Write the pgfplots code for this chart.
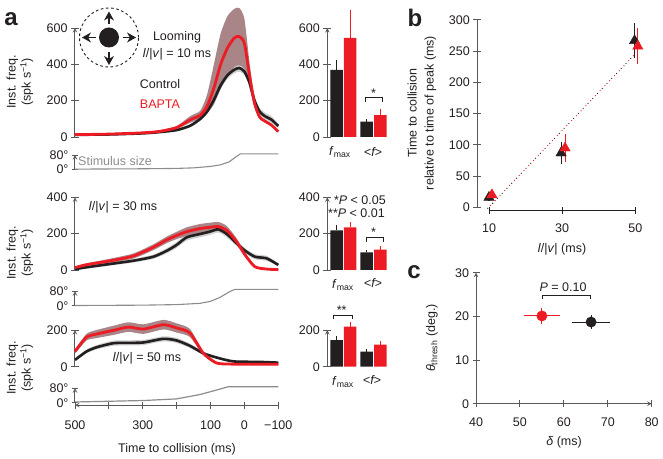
\documentclass[border=0pt]{standalone}
\usepackage{fontspec}
\setmainfont{Liberation Sans}
\usepackage{pgfplots}
\usepackage{pgfplotstable}
\pgfplotsset{compat=1.18}
\usetikzlibrary{arrows.meta}

\definecolor{ink}{HTML}{231F20}
\definecolor{redc}{HTML}{ED1C24}
\definecolor{redband}{HTML}{A98588}
\definecolor{grayband}{HTML}{CDD0CE}
\definecolor{stim}{HTML}{8A8C8E}
\definecolor{spineg}{HTML}{58595B}

% t control lo hi bapta lo hi
\pgfplotstableread{
t c cl cu r rl ru
500 12 9 15 13 10 16
400 14 11 17 16 13 20
300 20 17 24 23 19 28
250 27 23 31 31 26 37
200 38 32 44 52 45 60
160 62 54 70 95 78 115
130 100 90 110 120 100 145
110 140 130 152 170 130 235
90 205 192 220 270 180 400
70 285 268 305 400 265 570
50 340 320 362 490 330 665
30 370 350 392 545 385 705
15 380 360 402 553 395 710
0 360 340 380 515 375 650
-15 300 280 320 340 270 410
-30 200 185 220 185 160 210
-45 140 125 160 110 100 120
-60 115 98 135 88 80 95
-80 95 78 115 65 60 70
-100 60 50 72 30 27 33
}\tabA
\pgfplotstableread{
t c cl cu r rl ru
500 5 0 10 13 7 19
466 15 8 22 29 21 37
397 33 24 42 50 38 62
328 51 41 61 77 63 91
269 73 61 85 125 109 141
230 105 91 119 165 147 183
200 138 122 154 190 170 210
170 180 162 198 211 187 235
131 198 180 216 228 203 253
102 211 193 229 235 210 260
77 224 206 242 239 214 264
52 198 180 216 218 194 242
23 147 131 163 156 138 174
-2 106 92 120 83 73 93
-31 73 59 87 18 13 23
-66 64 50 78 5 2 8
-100 28 20 36 2 0 4
}\tabB
\pgfplotstableread{
t c cl cu r rl ru
500 37 29 45 83 71 95
466 83 73 93 161 143 179
436 106 94 118 178 156 200
387 128 114 142 198 173 223
342 130 116 144 216 190 242
298 132 118 146 205 179 231
239 152 138 166 229 203 255
200 143 129 157 211 186 236
161 114 102 126 184 162 206
121 73 65 81 73 63 83
82 50 44 56 20 15 25
33 29 24 34 14 10 18
-46 26 21 31 13 9 17
-100 22 17 27 13 9 17
}\tabC

% bars: x value err (x in bar widths, matches the uneven spacing)
\pgfplotstableread{
x v e
0 370 52
2.2 85 15
}\barAk
\pgfplotstableread{
x v e
1 545 155
3.2 120 35
}\barAr
\pgfplotstableread{
x v e
0 218 32
2.2 97 15
}\barBk
\pgfplotstableread{
x v e
1 235 27
3.2 112 20
}\barBr
\pgfplotstableread{
x v e
0 145 23
2.2 82 13
}\barCk
\pgfplotstableread{
x v e
1 218 27
3.2 120 18
}\barCr

\newcommand{\curves}[1]{
  \addplot[draw=none,smooth,tension=0.4,stack plots=y,forget plot] table[x=t,y=cl]{#1};
  \addplot[stack plots=y,smooth,tension=0.4,fill=grayband,draw=none,forget plot] table[x=t,y expr=\thisrow{cu}-\thisrow{cl}]{#1} \closedcycle;
  \addplot[draw=none,smooth,tension=0.4,stack plots=y,forget plot] table[x=t,y expr=\thisrow{rl}-\thisrow{cu}]{#1};
  \addplot[stack plots=y,smooth,tension=0.4,fill=redband,draw=none,forget plot] table[x=t,y expr=\thisrow{ru}-\thisrow{rl}]{#1} \closedcycle;
  \addplot[stack plots=false,ink,line width=2.6pt,smooth,tension=0.4] table[x=t,y=c]{#1};
  \addplot[stack plots=false,redc,line width=2.8pt,smooth,tension=0.4] table[x=t,y=r]{#1};
}
\newcommand{\bars}[2]{
  \addplot[ybar,bar width=12.5pt,bar shift=0pt,fill=ink,draw=none,
    error bars/.cd,y dir=plus,y explicit,error mark=none,
    error bar style={ink,line width=1.1pt}] table[x=x,y=v,y error=e]{#1};
  \addplot[ybar,bar width=12.5pt,bar shift=0pt,fill=redc,draw=none,
    error bars/.cd,y dir=plus,y explicit,error mark=none,
    error bar style={redc,line width=1.1pt}] table[x=x,y=v,y error=e]{#2};
}

\pgfplotsset{
  base/.style={scale only axis,clip=false,enlargelimits=false,
    axis line style={-,draw=spineg,line width=1pt},
    tick style={draw=spineg,line width=.9pt},
    tick align=outside,major tick length=8pt,
    ticklabel style={font=\fontsize{12.5}{15}\selectfont,text=ink},
    /pgf/number format/assume math mode=true,
    scaled ticks=false},
  pos/.style 2 args={at={(#1pt,{(458-#2)*1pt})},anchor=south west},
  trace/.style 2 args={base,pos={75}{#1},width=203.3pt,xmin=-100,xmax=500,x dir=reverse,
    axis x line=none,axis y line=left,ytick pos=left,height=#2pt},
  stimax/.style={trace={#1}{14.5},ymin=0,ymax=80,ytick={0,80},yticklabels={0°,80°},
    major tick length=6pt},
  barax/.style 2 args={base,pos={327.3}{#1},width=60.7pt,xmin=-0.67,xmax=3.75,
    axis x line=none,axis y line=left,height=#2pt,ymin=0},
}
\tikzset{lab/.style={font=\fontsize{12.5}{15}\selectfont,text=ink,inner sep=0pt},
  letter/.style={font=\fontsize{24}{26}\selectfont\bfseries,text=ink,inner sep=0pt},
  brk/.style={draw=ink,line width=.8pt}}
\newcommand{\px}[2]{({#1*1pt},{(458-#2)*1pt})}
\newcommand{\lv}{\textit{l}/|\textit{v}|}

\begin{document}
\begin{tikzpicture}
\path[use as bounding box] (0,0) rectangle (663pt,458pt);

% panel a, traces
\begin{axis}[trace={137}{109},ymin=0,ymax=600,ytick={0,200,400,600}]
\curves{\tabA}
\end{axis}
\begin{axis}[stimax={169.5}]
\addplot[stim,line width=1.1pt] coordinates {(500,2) (300,4) (200,6) (150,9) (100,17) (70,26) (45,42) (25,70) (12,86) (0,86) (-100,86)};
\end{axis}
\begin{axis}[trace={270}{72.7},ymin=0,ymax=400,ytick={0,200,400}]
\curves{\tabB}
\end{axis}
\begin{axis}[stimax={305.7}]
\addplot[stim,line width=1.1pt] coordinates {(500,1) (300,3) (200,6) (131,13) (100,24) (72,46) (43,78) (28,90) (-100,90)};
\end{axis}
\begin{axis}[trace={366.7}{36.7},ymin=0,ymax=200,ytick={0,200}]
\curves{\tabC}
\end{axis}
\begin{axis}[stimax={402.7}]
\addplot[stim,line width=1.2pt] coordinates {(500,4) (298,12) (200,21) (131,45) (82,70) (48,88) (-100,88)};
\end{axis}
% shared time axis
\begin{axis}[base,pos={75}{405},width=203.3pt,height=5pt,xmin=-100,xmax=500,x dir=reverse,
  ymin=0,ymax=1,axis y line=none,axis x line=bottom,
  xtick={500,400,300,200,100,0,-100},xticklabels={500,,300,,100,0,−100},major tick length=7pt,
  x tick label style={yshift=-9pt}]
\addplot[draw=none] coordinates {(500,0) (-100,0)};
\end{axis}

% panel a, bars
\begin{axis}[barax={137}{109},ymax=600,ytick={0,200,400,600}]
\bars{\barAk}{\barAr}
\end{axis}
\begin{axis}[barax={270}{72.7},ymax=400,ytick={0,200,400}]
\bars{\barBk}{\barBr}
\end{axis}
\begin{axis}[barax={366.7}{36.7},ymax=200,ytick={0,200}]
\bars{\barCk}{\barCr}
\end{axis}

% panel b
\begin{axis}[base,pos={477.3}{207.3},width=1pt,height=187.3pt,xmin=0,xmax=1,ymin=0,ymax=300,
  axis x line=none,axis y line=left,ytick={0,50,...,300},
  axis line style={-,draw=spineg,line width=1.4pt},
  tick style={draw=spineg,line width=1pt}]
\addplot[draw=none] coordinates {(0,0) (1,300)};
\end{axis}
\begin{axis}[base,pos={489}{210.7},width=146.3pt,height=187.3pt,xmin=10,xmax=50,
  ymin=-5.4,ymax=294.6,axis y line=none,axis x line=bottom,xtick={10,30,50},major tick length=6.5pt,
  axis line style={-,draw=ink,line width=.9pt},tick style={draw=ink,line width=.9pt},
  x tick label style={yshift=-6pt}]
\addplot[ink,line width=.9pt,dash pattern=on .9pt off 6pt] coordinates {(9.6,-2) (49.7,244)};
\addplot[redc,line width=.9pt,dash pattern=on .9pt off 6pt,dash phase=3pt] coordinates {(9.6,-2) (49.7,244)};
\addplot[only marks,mark=triangle*,mark size=6pt,ink,mark options={fill=ink,draw=ink},
  error bars/.cd,y dir=both,y explicit,error mark=none,error bar style={ink,line width=1.1pt}]
  coordinates {(10,16) +- (0,6) (29.7,87) +- (0,18) (49.8,267) +- (0,28)};
\addplot[only marks,mark=triangle*,mark size=6pt,redc,mark options={fill=redc,draw=redc},
  error bars/.cd,y dir=both,y explicit,error mark=none,error bar style={redc,line width=1.1pt}]
  coordinates {(10.8,20) +- (0,6) (30.8,95) +- (0,23) (50.7,258) +- (0,29)};
\end{axis}

% panel c
\begin{axis}[base,pos={476}{403.7},width=175.7pt,height=131pt,xmin=40,xmax=80,ymin=0,ymax=30,
  axis x line=bottom,axis y line=left,xtick={40,50,...,80},ytick={0,10,20,30},
  major tick length=7pt,x tick label style={yshift=-7pt}]
\addplot[only marks,mark=*,mark size=5.2pt,redc,mark options={fill=redc,draw=redc},
  error bars/.cd,x dir=both,x explicit,y dir=both,y explicit,error mark=none,error bar style={redc,line width=1pt}]
  coordinates {(55,20.1) +- (4.1,1.9)};
\addplot[only marks,mark=*,mark size=5.2pt,ink,mark options={fill=ink,draw=ink},
  error bars/.cd,x dir=both,x explicit,y dir=both,y explicit,error mark=none,error bar style={ink,line width=1pt}]
  coordinates {(66.2,18.7) +- (4.3,1.7)};
\end{axis}

% icon
\draw[ink,line width=.9pt,dash pattern=on 2.6pt off 2.6pt] \px{109}{37.5} circle (29.5pt);
\fill[ink] \px{109}{37.5} circle (10pt);
\begin{scope}[ink,line width=1.1pt,-{Stealth[length=9pt,width=10pt]}]
\draw \px{109}{24} -- \px{109}{11.5};
\draw \px{109}{52} -- \px{109}{65};
\draw \px{95.5}{37.5} -- \px{82}{37.5};
\draw \px{122.5}{37.5} -- \px{136}{37.5};
\end{scope}

% text, panel a
\node[letter] at \px{11}{19} {a};
\node[lab] at \px{177}{37.5} {Looming};
\node[lab] at \px{177}{54} {\lv{} = 10 ms};
\node[lab] at \px{160}{84.5} {Control};
\node[lab,text=redc] at \px{160}{104} {BAPTA};
\node[lab,text=stim,anchor=west] at \px{78}{161} {Stimulus size};
\node[lab] at \px{123}{207.5} {\lv{} = 30 ms};
\node[lab] at \px{147}{358.5} {\lv{} = 50 ms};
\node[lab,rotate=90,align=center] at \px{20}{82} {Inst. freq.\\(spk s\textsuperscript{−1})};
\node[lab,rotate=90,align=center] at \px{20}{253} {Inst. freq.\\(spk s\textsuperscript{−1})};
\node[lab,rotate=90,align=center] at \px{20}{368} {Inst. freq.\\(spk s\textsuperscript{−1})};
\node[lab] at \px{177}{449} {Time to collision (ms)};

% bar annotations
\node[lab] at \px{340}{152} {\textit{f}\textsubscript{max}};
\node[lab] at \px{373}{152} {\textit{<f>}};
\node[lab] at \px{343}{285} {\textit{f}\textsubscript{max}};
\node[lab] at \px{373}{283} {\textit{<f>}};
\node[lab] at \px{343}{382} {\textit{f}\textsubscript{max}};
\node[lab] at \px{372}{380} {\textit{<f>}};
\draw[brk] \px{365.7}{102} -- \px{365.7}{97.7} -- \px{382.3}{97.7} -- \px{382.3}{102};
\node[lab] at \px{373.5}{93} {*};
\node[lab,anchor=east] at \px{386}{200} {*\textit{P} < 0.05};
\node[lab,anchor=east] at \px{385}{213} {**\textit{P} < 0.01};
\draw[brk] \px{366}{241.7} -- \px{366}{237.3} -- \px{383.3}{237.3} -- \px{383.3}{241.7};
\node[lab] at \px{373.5}{232.5} {*};
\draw[brk] \px{333.7}{319.3} -- \px{333.7}{315} -- \px{352}{315} -- \px{352}{319.3};
\node[lab] at \px{341.7}{310} {**};

% text, panel b
\node[letter] at \px{415}{18} {b};
\node[lab,rotate=90,align=center,font=\fontsize{12.5}{17}\selectfont] at \px{422}{113} {Time to collision\\relative to time of peak (ms)};
\node[lab] at \px{562}{249} {\lv{} (ms)};

% text, panel c
\node[letter] at \px{414}{272} {c};
\draw[brk] \px{542}{299.3} -- \px{542}{295} -- \px{590.3}{295} -- \px{590.3}{299.3};
\node[lab] at \px{563}{287} {\textit{P} = 0.10};
\node[lab,rotate=90] at \px{432}{338} {\textit{θ}\textsubscript{thresh} (deg.)};
\node[lab] at \px{564}{442} {\textit{δ} (ms)};
\end{tikzpicture}
\end{document}
